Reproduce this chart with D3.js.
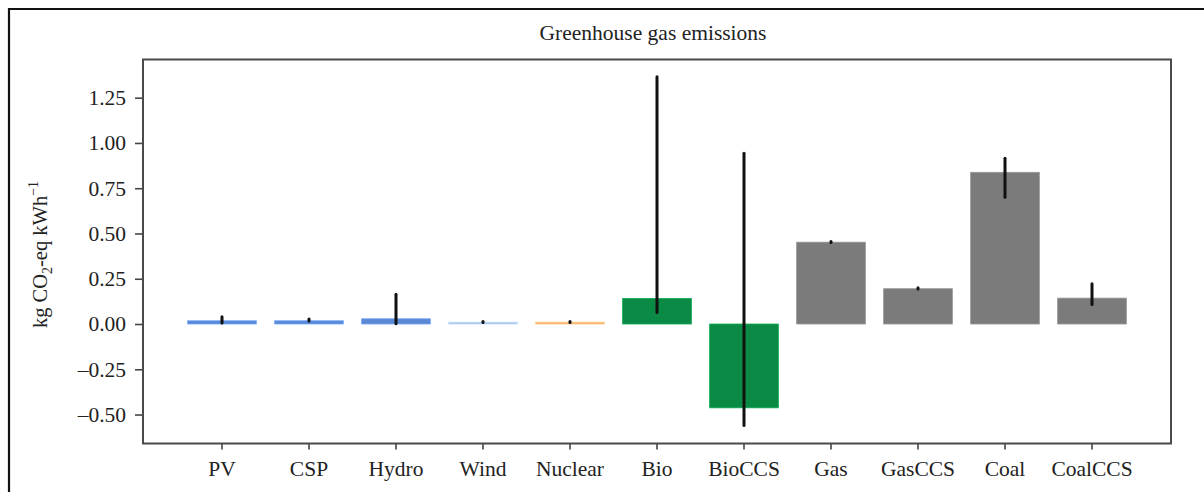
<!DOCTYPE html>
<html>
<head>
<meta charset="utf-8">
<script src="https://cdn.jsdelivr.net/npm/d3@7"></script>
<style>
  body { margin: 0; background: #fff; }
  svg { display: block; }
  svg text { font-family: "Liberation Serif", "Times New Roman", "Liberation Sans", sans-serif !important; fill: #222; }
</style>
</head>
<body>
<svg id="chart" width="1204" height="492"></svg>
<script>
const categories = ["PV", "CSP", "Hydro", "Wind", "Nuclear", "Bio", "BioCCS", "Gas", "GasCCS", "Coal", "CoalCCS"];
const values     = [0.018, 0.018, 0.029, 0.010, 0.010, 0.141, -0.463, 0.452, 0.195, 0.838, 0.143];
const errLow     = [0.005, 0.017, 0.002, 0.008, 0.008, 0.064, -0.561, 0.450, 0.193, 0.700, 0.108];
const errHigh    = [0.040, 0.027, 0.165, 0.013, 0.013, 1.366, 0.943, 0.455, 0.200, 0.916, 0.222];
const colors     = ["#5b88d2", "#5b88d2", "#5b88d2", "#a0b7e6", "#f5a66c", "#0b8a45", "#0b8a45", "#7b7b7b", "#7b7b7b", "#7b7b7b", "#7b7b7b"];
const yTicks     = [-0.5, -0.25, 0, 0.25, 0.5, 0.75, 1.0, 1.25];
const title      = "Greenhouse gas emissions";

const svg = d3.select("#chart");
const L = 143, R = 1171, T = 59.5, B = 443.5;

const x = d3.scaleBand().domain(categories).range([L, R]).paddingInner(0.21).paddingOuter(0.513);
const y = d3.scaleLinear().domain([-0.66, 1.461]).range([B, T]);

// outer border (left + top)
svg.append("path").attr("d", `M9,492 V9 H1204`).attr("fill", "none").attr("stroke", "#111").attr("stroke-width", 2.2);

// title
svg.append("text").attr("x", 653).attr("y", 40).attr("text-anchor", "middle")
  .attr("font-size", 21.5).text(title);

const data = categories.map((c, i) => ({c, v: values[i], lo: errLow[i], hi: errHigh[i], col: colors[i]}));

// bars
svg.append("g").selectAll("rect").data(data).join("rect")
  .attr("x", d => x(d.c))
  .attr("width", x.bandwidth())
  .attr("y", d => y(Math.max(0, d.v)))
  .attr("height", d => Math.abs(y(d.v) - y(0)))
  .attr("fill", d => d.col)
  .attr("stroke", d => d3.color(d.col).brighter(0.6))
  .attr("stroke-width", 0.8);

// error bars
svg.append("g").selectAll("line").data(data).join("line")
  .attr("x1", d => x(d.c) + x.bandwidth() / 2)
  .attr("x2", d => x(d.c) + x.bandwidth() / 2)
  .attr("y1", d => y(d.lo))
  .attr("y2", d => Math.min(y(d.hi), y(d.lo) - 1))
  .attr("stroke", "#111").attr("stroke-width", 3).attr("stroke-linecap", "round");

// axes
const yAxis = d3.axisLeft(y).tickValues(yTicks).tickFormat(d3.format(".2f")).tickSize(8).tickPadding(9);
const gy = svg.append("g").attr("transform", `translate(${L},0)`).call(yAxis);
gy.select(".domain").remove();
gy.attr("font-family", null);
gy.selectAll(".tick line").attr("stroke", "#444").attr("stroke-width", 1.6);
gy.selectAll(".tick text").attr("font-size", 21.5).attr("fill", "#222")
  .text(d => d3.format(".2f")(d).replace("−", "–"));

const xAxis = d3.axisBottom(x).tickSize(6).tickPadding(11.5);
const gx = svg.append("g").attr("transform", `translate(0,${B})`).call(xAxis);
gx.select(".domain").remove();
gx.attr("font-family", null);
gx.selectAll(".tick line").attr("stroke", "#444").attr("stroke-width", 1.6);
gx.selectAll(".tick text").attr("font-size", 21.5).attr("fill", "#222");

// frame
svg.append("rect").attr("x", L).attr("y", T).attr("width", R - L).attr("height", B - T)
  .attr("fill", "none").attr("stroke", "#4a4a4a").attr("stroke-width", 2);

// y label
const yl = svg.append("text").attr("transform", `translate(47,${(T + B) / 2 + 3}) rotate(-90)`)
  .attr("text-anchor", "middle").attr("font-size", 20.5);
yl.append("tspan").text("kg CO");
yl.append("tspan").attr("font-size", 14).attr("dy", 5).text("2");
yl.append("tspan").attr("dy", -5).text("-eq kWh");
yl.append("tspan").attr("font-size", 14).attr("dy", -9).text("−1");
</script>
</body>
</html>
